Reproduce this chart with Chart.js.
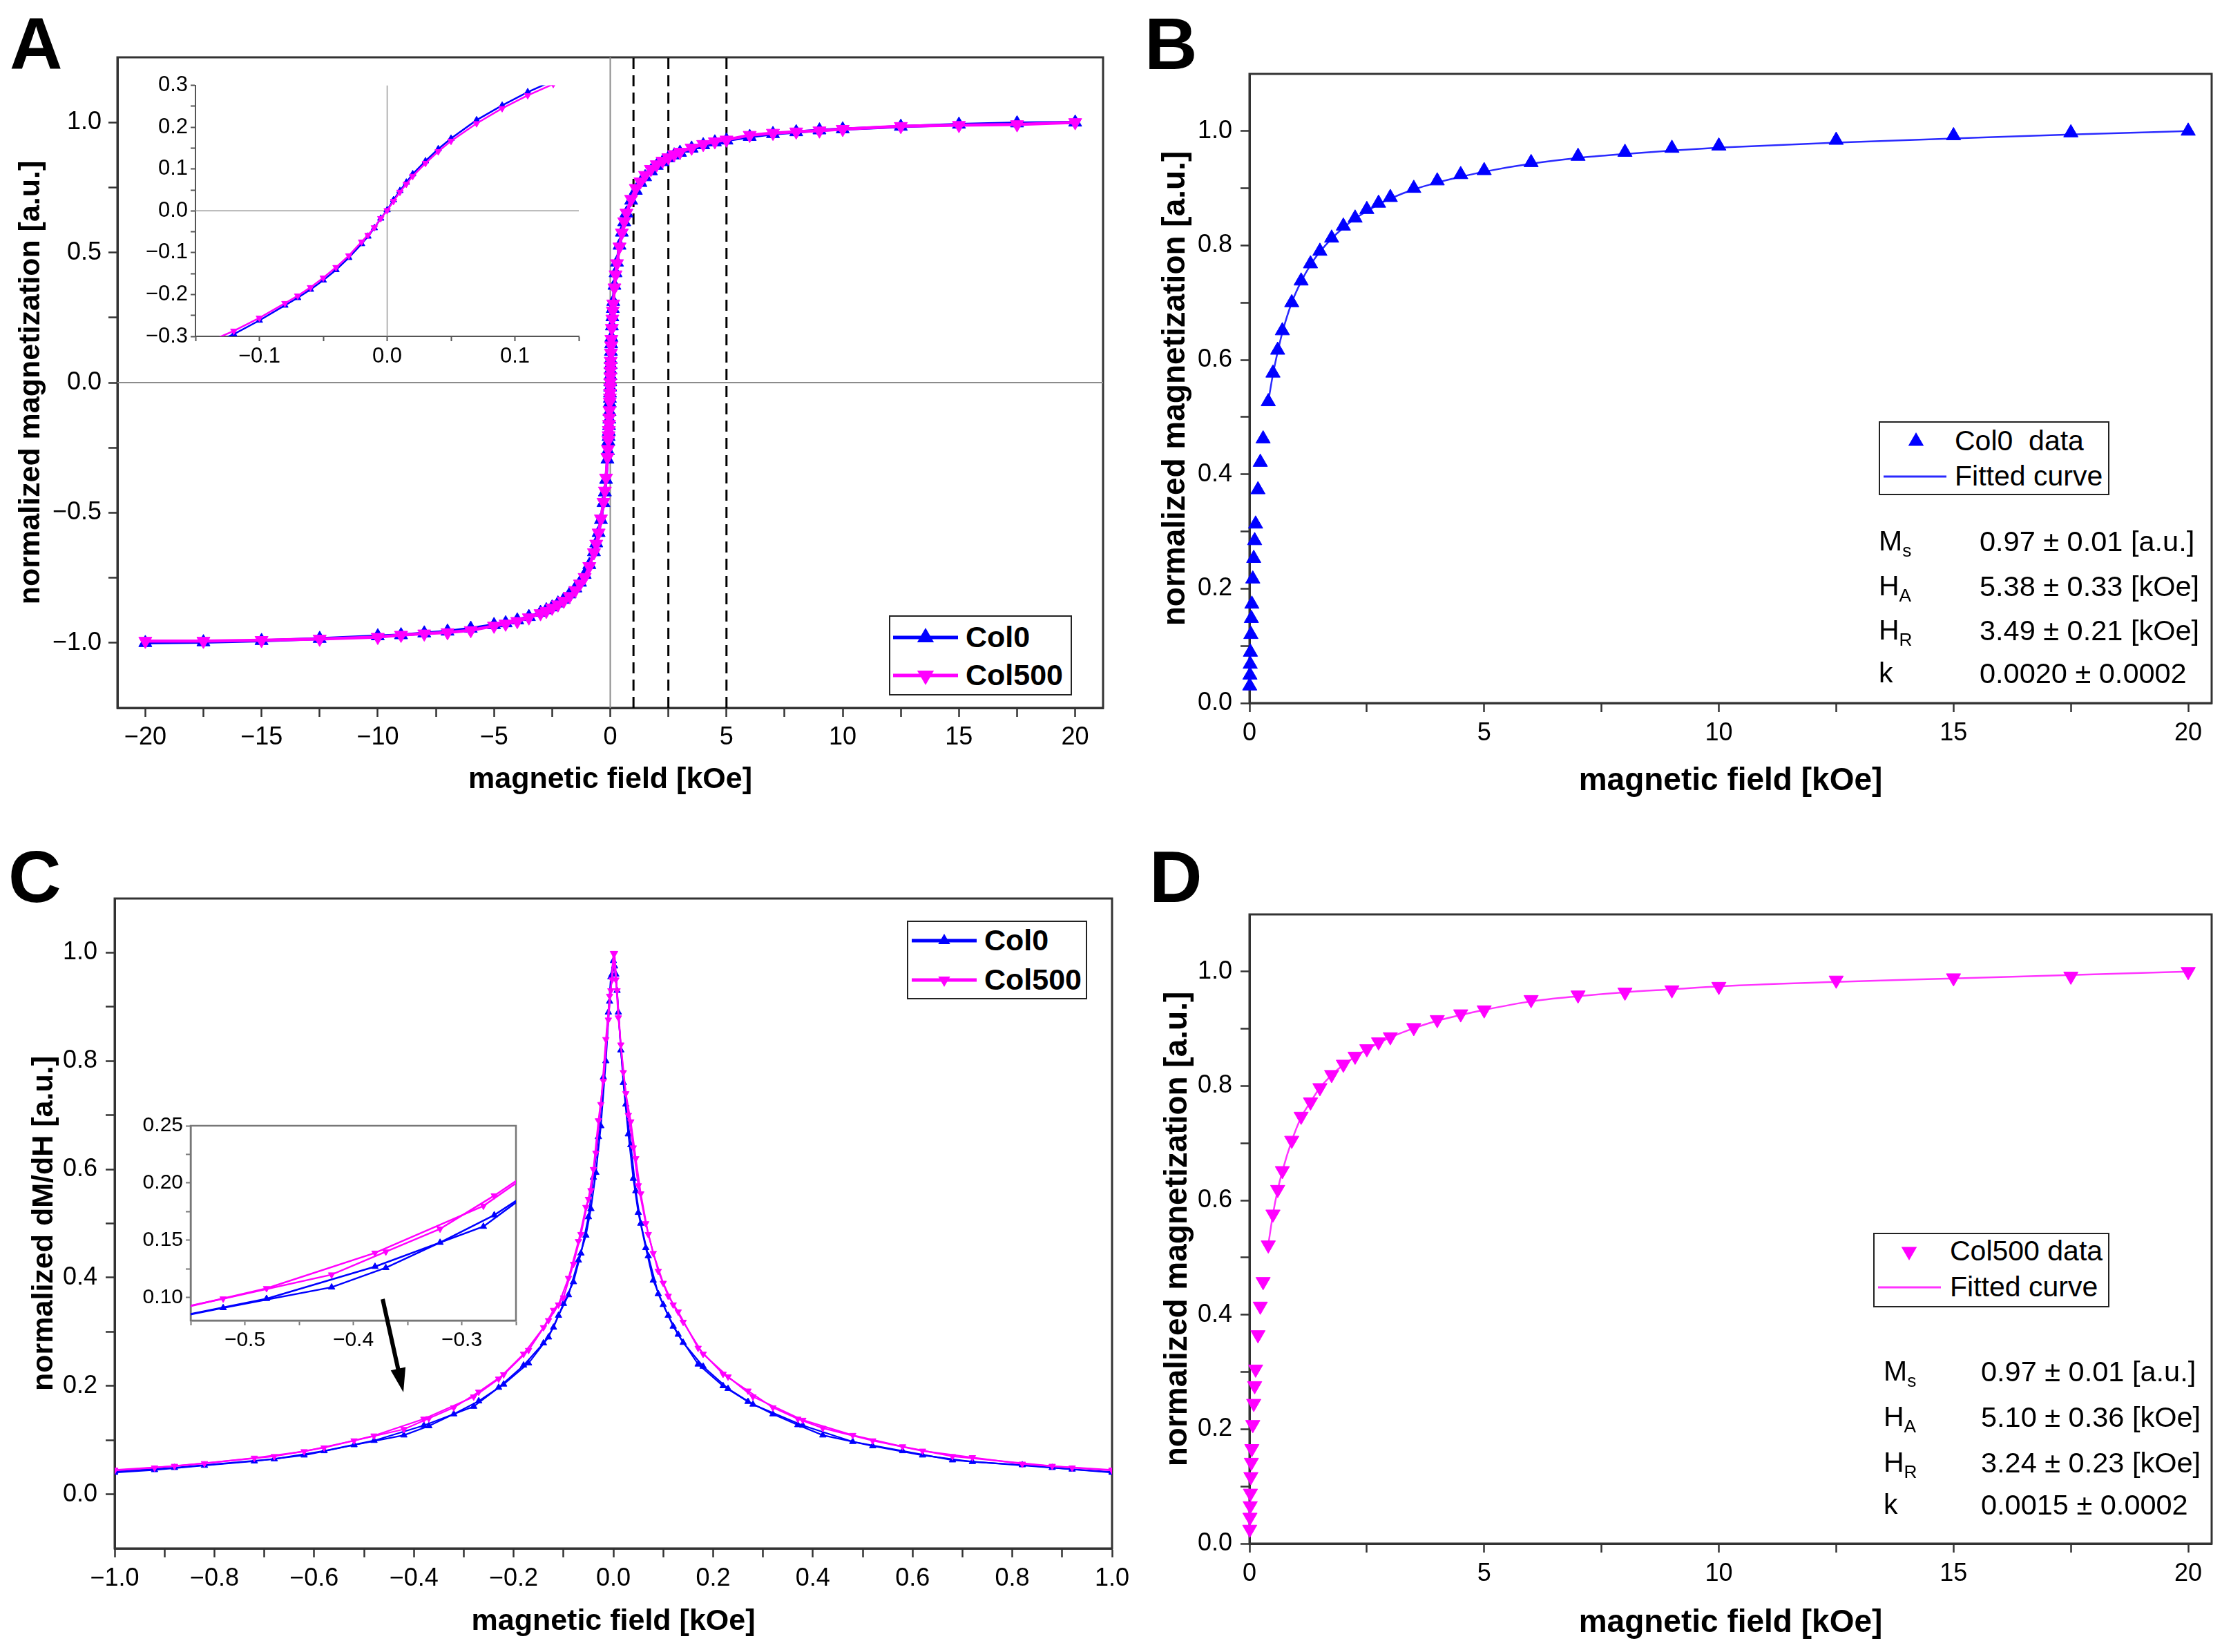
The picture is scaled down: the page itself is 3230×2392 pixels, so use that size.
<!DOCTYPE html>
<html>
<head>
<meta charset="utf-8">
<title>Magnetization curves</title>
<script src="https://cdn.jsdelivr.net/npm/chart.js@4.4.1/dist/chart.umd.min.js"></script>
<style>
html,body{margin:0;padding:0;background:#fff;overflow:hidden;}
body{width:3230px;height:2392px;position:relative;font-family:'Liberation Sans',Arial,sans-serif;color:#000;}
canvas{position:absolute;}
.letter{position:absolute;font-size:106px;font-weight:bold;line-height:1;}
.lgbox{position:absolute;border:2.5px solid #222;box-sizing:border-box;background:#fff;}
.txt{position:absolute;white-space:nowrap;}
.txt sub{font-size:0.64em;vertical-align:-0.35em;line-height:0;}
svg{position:absolute;left:0;top:0;}
</style>
</head>
<body>
<script>
'use strict';

//////// data: panel A (full loop, both samples)
let aH=[-20,-17.5,-15,-12.5,-10,-9,-8,-7,-6,-5,-4.5,-4,-3.5,-3,-2.75,-2.5,-2.25,-2,-1.75,-1.5,-1.3,-1.1,-0.9,-0.7,-0.6,-0.5,-0.4,-0.29,-0.23,-0.18,-0.12,-0.1,-0.08,-0.07,-0.06,-0.05,-0.04,-0.03,-0.02,-0.015,-0.01,-0.005,
  0,
  0.005,0.01,0.015,0.02,0.03,0.04,0.05,0.07,0.09,0.11,0.13,0.18,0.23,0.29,0.4,0.5,0.6,0.7,0.9,1.1,1.3,1.5,1.75,2,2.25,2.5,2.75,3,3.5,4,4.5,5,6,7,8,9,10,12.5,15,17.5,20];
let aCol0=[-1.000,-0.997,-0.992,-0.984,-0.974,-0.970,-0.963,-0.956,-0.945,-0.931,-0.924,-0.913,-0.900,-0.884,-0.874,-0.863,-0.848,-0.834,-0.813,-0.790,-0.768,-0.738,-0.700,-0.651,-0.617,-0.577,-0.527,-0.462,-0.421,-0.373,-0.295,-0.262,-0.226,-0.208,-0.188,-0.166,-0.141,-0.112,-0.079,-0.061,-0.041,-0.018,
  0.002,
  0.026,0.048,0.068,0.088,0.119,0.148,0.173,0.217,0.252,0.284,0.311,0.373,0.421,0.462,0.527,0.577,0.617,0.651,0.700,0.738,0.768,0.790,0.813,0.834,0.848,0.863,0.874,0.884,0.900,0.913,0.924,0.931,0.945,0.956,0.963,0.970,0.974,0.984,0.992,0.997,1.000];
let aCol500=[-0.993,-0.993,-0.990,-0.985,-0.978,-0.970,-0.965,-0.960,-0.952,-0.935,-0.927,-0.917,-0.903,-0.887,-0.878,-0.866,-0.853,-0.839,-0.821,-0.798,-0.773,-0.748,-0.706,-0.653,-0.620,-0.577,-0.523,-0.459,-0.416,-0.366,-0.287,-0.256,-0.221,-0.203,-0.183,-0.160,-0.135,-0.107,-0.074,-0.058,-0.040,-0.018,
  0.001,
  0.023,0.045,0.064,0.083,0.114,0.142,0.167,0.209,0.245,0.276,0.303,0.365,0.415,0.458,0.522,0.576,0.619,0.652,0.705,0.747,0.772,0.797,0.820,0.838,0.852,0.865,0.877,0.886,0.902,0.916,0.926,0.933,0.951,0.959,0.964,0.968,0.974,0.985,0.989,0.992,1.000];
let aMarkLines=[1,2.5,5];

//////// data: panels B and D (positive branch + fit)
let bH=[0.005,0.01,0.015,0.02,0.03,0.04,0.05,0.07,0.09,0.11,0.13,0.18,0.23,0.29,0.4,0.5,0.6,0.7,0.9,1.1,1.3,1.5,1.75,2,2.25,2.5,2.75,3,3.5,4,4.5,5,6,7,8,9,10,12.5,15,17.5,20];
let bCol0=[0.030,0.049,0.068,0.089,0.120,0.148,0.173,0.217,0.253,0.284,0.313,0.373,0.421,0.462,0.527,0.577,0.617,0.651,0.700,0.738,0.768,0.790,0.813,0.834,0.848,0.863,0.874,0.884,0.900,0.913,0.924,0.931,0.945,0.956,0.963,0.970,0.974,0.984,0.992,0.997,1.000];
let dCol500=[0.025,0.046,0.066,0.088,0.117,0.142,0.166,0.208,0.245,0.276,0.305,0.365,0.415,0.458,0.522,0.576,0.619,0.652,0.705,0.747,0.772,0.797,0.820,0.838,0.852,0.865,0.877,0.886,0.902,0.916,0.926,0.933,0.951,0.959,0.964,0.968,0.974,0.985,0.989,0.992,1.000];
let fitH=[0.4,0.5,0.6,0.7,0.9,1.1,1.3,1.5,1.75,2,2.25,2.5,2.75,3,3.5,4,4.5,5,6,7,8,9,10,12.5,15,17.5,20];
let bFit=[0.527,0.575,0.614,0.648,0.700,0.737,0.766,0.789,0.812,0.831,0.847,0.860,0.872,0.882,0.898,0.910,0.920,0.929,0.943,0.953,0.960,0.966,0.971,0.980,0.987,0.994,1.000];
let dFit=[0.522,0.576,0.618,0.651,0.704,0.745,0.772,0.797,0.819,0.837,0.851,0.864,0.875,0.885,0.901,0.914,0.924,0.933,0.948,0.957,0.964,0.969,0.974,0.982,0.988,0.994,1.000];
let bParams=[['M','s','0.97 \u00b1 0.01 [a.u.]'],['H','A','5.38 \u00b1 0.33 [kOe]'],['H','R','3.49 \u00b1 0.21 [kOe]'],['k','','0.0020 \u00b1 0.0002']];
let dParams=[['M','s','0.97 \u00b1 0.01 [a.u.]'],['H','A','5.10 \u00b1 0.36 [kOe]'],['H','R','3.24 \u00b1 0.23 [kOe]'],['k','','0.0015 \u00b1 0.0002']];

//////// data: panel C (derivative, two sweeps per sample)
let cHa=[-1.0,-0.92,-0.82,-0.72,-0.62,-0.52,-0.42,-0.37,-0.32,-0.27,-0.22,-0.17,-0.13,-0.11,-0.09,-0.07,-0.055,-0.045,-0.035,-0.025,-0.015,-0.0075,-0.0025,
  0.0025,0.0075,0.015,0.025,0.035,0.045,0.055,0.07,0.09,0.11,0.13,0.17,0.22,0.27,0.32,0.37,0.42,0.52,0.62,0.72,0.82,0.92,1.0];
let cCol0a=[0.040,0.045,0.053,0.061,0.072,0.091,0.109,0.126,0.148,0.172,0.203,0.242,0.290,0.330,0.368,0.432,0.478,0.527,0.594,0.680,0.800,0.910,0.960,
  0.975,0.930,0.820,0.720,0.645,0.560,0.500,0.440,0.370,0.330,0.295,0.240,0.200,0.171,0.148,0.128,0.109,0.089,0.072,0.060,0.054,0.046,0.041];
let cCol500a=[0.044,0.049,0.057,0.067,0.079,0.099,0.120,0.140,0.160,0.189,0.221,0.266,0.321,0.350,0.399,0.467,0.530,0.561,0.630,0.720,0.840,0.920,0.950,
  0.999,0.930,0.830,0.740,0.688,0.620,0.555,0.480,0.412,0.366,0.337,0.270,0.222,0.191,0.160,0.139,0.122,0.099,0.080,0.068,0.056,0.049,0.044];
let cHb=[-1.0,-0.88,-0.68,-0.58,-0.48,-0.38,-0.28,-0.23,-0.18,-0.14,-0.12,-0.1,-0.08,-0.065,-0.05,-0.04,-0.03,-0.02,-0.01,-0.005,
  0,
  0.005,0.01,0.02,0.03,0.04,0.05,0.065,0.08,0.1,0.12,0.14,0.18,0.23,0.28,0.38,0.48,0.58,0.68,0.88,1.0];
let cCol0b=[0.042,0.049,0.065,0.080,0.099,0.127,0.162,0.197,0.238,0.279,0.308,0.352,0.392,0.445,0.512,0.585,0.660,0.770,0.890,0.955,
  0.985,
  0.960,0.890,0.760,0.665,0.583,0.520,0.455,0.395,0.350,0.310,0.280,0.236,0.195,0.166,0.127,0.097,0.080,0.063,0.049,0.040];
let cCol500b=[0.045,0.052,0.070,0.086,0.108,0.139,0.180,0.213,0.259,0.308,0.340,0.363,0.425,0.480,0.545,0.600,0.690,0.763,0.876,0.930,
  0.999,
  0.950,0.880,0.779,0.700,0.640,0.570,0.500,0.445,0.390,0.350,0.318,0.259,0.217,0.180,0.137,0.109,0.088,0.070,0.052,0.045];

//////// tick values and labelled ticks
let aXTicks=[-20,-17.5,-15,-12.5,-10,-7.5,-5,-2.5,0,2.5,5,7.5,10,12.5,15,17.5,20];
let aXLabels=[-20,-15,-10,-5,0,5,10,15,20];
let aYTicks=[-1,-0.75,-0.5,-0.25,0,0.25,0.5,0.75,1];
let aYLabels=[-1,-0.5,0,0.5,1];
let insAXTicks=[-0.15,-0.1,-0.05,0,0.05,0.1,0.15];
let insAXLabels=[-0.1,0,0.1];
let insAYTicks=[-0.3,-0.25,-0.2,-0.15,-0.1,-0.05,0,0.05,0.1,0.15,0.2,0.25,0.3];
let insAYLabels=[-0.3,-0.2,-0.1,0,0.1,0.2,0.3];
let bXTicks=[0,2.5,5,7.5,10,12.5,15,17.5,20];
let bXLabels=[0,5,10,15,20];
let bYTicks=[0,0.1,0.2,0.3,0.4,0.5,0.6,0.7,0.8,0.9,1.0];
let bYLabels=[0,0.2,0.4,0.6,0.8,1.0];
let cXTicks=[-1,-0.9,-0.8,-0.7,-0.6,-0.5,-0.4,-0.3,-0.2,-0.1,0,0.1,0.2,0.3,0.4,0.5,0.6,0.7,0.8,0.9,1];
let cXLabels=[-1,-0.8,-0.6,-0.4,-0.2,0,0.2,0.4,0.6,0.8,1];
let cYTicks=[0,0.1,0.2,0.3,0.4,0.5,0.6,0.7,0.8,0.9,1.0];
let cYLabels=[0,0.2,0.4,0.6,0.8,1.0];
let insCXTicks=[-0.55,-0.5,-0.45,-0.4,-0.35,-0.3,-0.25];
let insCXLabels=[-0.5,-0.4,-0.3];
let insCYTicks=[0.1,0.125,0.15,0.175,0.2,0.225,0.25];
let insCYLabels=[0.1,0.15,0.2,0.25];

let BLUE='#0000ff';
let MAGENTA='#ff00ff';
let AXIS='#333';

Chart.defaults.font.family="'Liberation Sans', Arial, sans-serif";
Chart.defaults.color='#000';

// box round the plot area, drawn under the data
let framePlugin={
  id:'frame',
  beforeDatasetsDraw(chart, args, opts){
    if(!opts.show){return;}
    let a=chart.chartArea;
    let ctx=chart.ctx;
    ctx.save();
    ctx.strokeStyle=opts.color;
    ctx.lineWidth=opts.width;
    ctx.strokeRect(a.left, a.top, a.right-a.left, a.bottom-a.top);
    ctx.restore();
  }
};
Chart.register(framePlugin);

function pts(xs, ys){
  return xs.map(function(x, i){ return {x:x, y:ys[i]}; });
}

function fmt(v, dec){
  if(Math.abs(v)<1e-9){ return (0).toFixed(dec); }
  let s=Math.abs(v).toFixed(dec);
  return v<0 ? '\u2212'+s : s;
}

function inList(v, list){
  return list.some(function(l){ return Math.abs(l-v)<1e-9; });
}

// one linear axis with fixed size so the plot area lands where we want it
function axis(o){
  return {
    type:'linear',
    position:o.pos,
    min:o.min,
    max:o.max,
    afterBuildTicks:function(ax){ ax.ticks=o.ticks.map(function(v){ return {value:v}; }); },
    afterFit:function(ax){ if(o.pos==='left'){ ax.width=o.size; }else{ ax.height=o.size; } },
    ticks:{
      autoSkip:false, maxRotation:0, minRotation:0,
      padding:o.pad,
      font:{size:o.fs},
      color:'#000',
      callback:function(v){ return inList(v, o.labels) ? fmt(v, o.dec) : ''; }
    },
    grid:{drawOnChartArea:false, drawTicks:true, tickLength:o.tl, tickWidth:o.tw, tickColor:o.color},
    border:{display:true, color:o.color, width:o.bw},
    title:o.title ? {display:true, text:o.title, font:{size:o.tfs, weight:'bold'}, color:'#000', padding:0} : {display:false}
  };
}

function series(xs, ys, color, o){
  return {
    data:pts(xs, ys),
    showLine:o.lw>0,
    borderColor:color,
    backgroundColor:color,
    borderWidth:o.lw,
    pointRadius:o.r,
    pointStyle:'triangle',
    pointRotation:o.rot||0,
    pointBorderWidth:1,
    pointBorderColor:color,
    pointBackgroundColor:color,
    cubicInterpolationMode:o.smooth ? 'monotone' : 'default',
    order:o.order,
    clip:o.clip
  };
}

function refLine(p0, p1, color, width, dash){
  return {data:[p0, p1], showLine:true, borderColor:color, borderWidth:width, borderDash:dash||[], pointRadius:0, order:9};
}

// canvas placed so that the chart area sits on plot = {l,t,r,b}
function makeChart(plot, wy, hx, pad, datasets, xAx, yAx, frame){
  let c=document.createElement('canvas');
  let w=pad.l+wy+(plot.r-plot.l)+pad.r;
  let h=pad.t+(plot.b-plot.t)+hx+pad.b;
  c.width=w; c.height=h;
  c.style.width=w+'px'; c.style.height=h+'px';
  c.style.left=(plot.l-wy-pad.l)+'px';
  c.style.top=(plot.t-pad.t)+'px';
  document.body.appendChild(c);
  return new Chart(c.getContext('2d'), {
    type:'scatter',
    data:{datasets:datasets},
    options:{
      responsive:false,
      animation:false,
      devicePixelRatio:1,
      layout:{padding:{left:pad.l, right:pad.r, top:pad.t, bottom:pad.b}},
      elements:{line:{tension:0}},
      plugins:{legend:{display:false}, tooltip:{enabled:false}, frame:frame},
      scales:{x:xAx, y:yAx}
    }
  });
}

let FRAME={show:true, color:AXIS, width:3};

//////// panel A
makeChart({l:170,t:83,r:1597,b:1025}, 151, 130, {l:40,r:40,t:40,b:20}, [
  series(aH, aCol500, MAGENTA, {lw:4.5, r:11, rot:180, order:1, clip:false}),
  series(aH, aCol0, BLUE, {lw:4.5, r:11, order:2, clip:false}),
  refLine({x:-21.2,y:0}, {x:21.2,y:0}, '#8c8c8c', 2),
  refLine({x:0,y:-1.25}, {x:0,y:1.25}, '#8c8c8c', 2),
  refLine({x:aMarkLines[0],y:-1.25}, {x:aMarkLines[0],y:1.25}, '#000', 3, [16,9]),
  refLine({x:aMarkLines[1],y:-1.25}, {x:aMarkLines[1],y:1.25}, '#000', 3, [16,9]),
  refLine({x:aMarkLines[2],y:-1.25}, {x:aMarkLines[2],y:1.25}, '#000', 3, [16,9])
],
  axis({pos:'bottom', min:-21.2, max:21.2, ticks:aXTicks, labels:aXLabels, dec:0, size:130, pad:8, fs:36, tl:13, tw:2.5, bw:3, color:AXIS, title:'magnetic field [kOe]', tfs:43}),
  axis({pos:'left', min:-1.25, max:1.25, ticks:aYTicks, labels:aYLabels, dec:1, size:151, pad:10, fs:36, tl:13, tw:2.5, bw:3, color:AXIS, title:'normalized magnetization [a.u.]', tfs:43}),
  FRAME);

//////// inset of A
makeChart({l:283,t:121,r:838,b:487}, 80, 45, {l:20,r:20,t:20,b:20}, [
  series(aH, aCol500, MAGENTA, {lw:2.5, r:5.5, rot:180, order:1}),
  series(aH, aCol0, BLUE, {lw:2.5, r:5.5, order:2}),
  refLine({x:-0.15,y:0}, {x:0.15,y:0}, '#9a9a9a', 1.5),
  refLine({x:0,y:-0.3}, {x:0,y:0.3}, '#9a9a9a', 1.5)
],
  axis({pos:'bottom', min:-0.15, max:0.15, ticks:insAXTicks, labels:insAXLabels, dec:1, size:45, pad:4, fs:31, tl:7, tw:2, bw:2, color:'#555'}),
  axis({pos:'left', min:-0.3, max:0.3, ticks:insAYTicks, labels:insAYLabels, dec:1, size:80, pad:4, fs:31, tl:7, tw:2, bw:2, color:'#555'}),
  {show:false});

//////// panel B
makeChart({l:1809,t:107,r:3202,b:1018}, 134, 141, {l:40,r:20,t:40,b:20}, [
  series(bH, bCol0, BLUE, {lw:0, r:12, order:1, clip:false}),
  series(fitH, bFit, '#2a2aff', {lw:2.5, r:0, smooth:true, order:2})
],
  axis({pos:'bottom', min:0, max:20.5, ticks:bXTicks, labels:bXLabels, dec:0, size:141, pad:9, fs:36, tl:13, tw:2.5, bw:3, color:AXIS, title:'magnetic field [kOe]', tfs:46}),
  axis({pos:'left', min:0, max:1.1, ticks:bYTicks, labels:bYLabels, dec:1, size:134, pad:12, fs:36, tl:13, tw:2.5, bw:3, color:AXIS, title:'normalized magnetization [a.u.]', tfs:46}),
  FRAME);

//////// panel C
makeChart({l:166,t:1301,r:1610,b:2242}, 128, 132, {l:40,r:40,t:40,b:20}, [
  series(cHa, cCol500a, MAGENTA, {lw:2.2, r:5.5, rot:180, order:1}),
  series(cHb, cCol500b, MAGENTA, {lw:2.2, r:5.5, rot:180, order:2}),
  series(cHa, cCol0a, BLUE, {lw:2.2, r:5.5, order:3}),
  series(cHb, cCol0b, BLUE, {lw:2.2, r:5.5, order:4})
],
  axis({pos:'bottom', min:-1, max:1, ticks:cXTicks, labels:cXLabels, dec:1, size:132, pad:9, fs:36, tl:13, tw:2.5, bw:3, color:AXIS, title:'magnetic field [kOe]', tfs:43}),
  axis({pos:'left', min:-0.1, max:1.1, ticks:cYTicks, labels:cYLabels, dec:1, size:128, pad:12, fs:36, tl:13, tw:2.5, bw:3, color:AXIS, title:'normalized dM/dH [a.u.]', tfs:43}),
  FRAME);

//////// inset of C
makeChart({l:276,t:1628,r:747,b:1912}, 85, 45, {l:20,r:20,t:20,b:20}, [
  series(cHa, cCol500a, MAGENTA, {lw:2.5, r:5.5, rot:180, order:1}),
  series(cHb, cCol500b, MAGENTA, {lw:2.5, r:5.5, rot:180, order:2}),
  series(cHa, cCol0a, BLUE, {lw:2.5, r:5.5, order:3}),
  series(cHb, cCol0b, BLUE, {lw:2.5, r:5.5, order:4})
],
  axis({pos:'bottom', min:-0.55, max:-0.25, ticks:insCXTicks, labels:insCXLabels, dec:1, size:45, pad:4, fs:30, tl:7, tw:2, bw:2.5, color:'#777'}),
  axis({pos:'left', min:0.08, max:0.25, ticks:insCYTicks, labels:insCYLabels, dec:2, size:85, pad:4, fs:30, tl:7, tw:2, bw:2.5, color:'#777'}),
  {show:true, color:'#777', width:2.5});

//////// panel D
makeChart({l:1809,t:1324,r:3202,b:2235}, 131, 143, {l:40,r:20,t:40,b:20}, [
  series(bH, dCol500, MAGENTA, {lw:0, r:12, rot:180, order:1, clip:false}),
  series(fitH, dFit, '#ff33ff', {lw:2.5, r:0, smooth:true, order:2})
],
  axis({pos:'bottom', min:0, max:20.5, ticks:bXTicks, labels:bXLabels, dec:0, size:143, pad:9, fs:36, tl:13, tw:2.5, bw:3, color:AXIS, title:'magnetic field [kOe]', tfs:46}),
  axis({pos:'left', min:0, max:1.1, ticks:bYTicks, labels:bYLabels, dec:1, size:131, pad:12, fs:36, tl:13, tw:2.5, bw:3, color:AXIS, title:'normalized magnetization [a.u.]', tfs:46}),
  FRAME);

//////// text overlays: letters, legends, fit parameters
function addText(html, x, cy, fs, bold){
  let d=document.createElement('div');
  d.className='txt';
  d.innerHTML=html;
  d.style.left=x+'px';
  d.style.top=(cy-fs*0.6)+'px';
  d.style.fontSize=fs+'px';
  d.style.lineHeight=(fs*1.2)+'px';
  if(bold){ d.style.fontWeight='bold'; }
  document.body.appendChild(d);
}

function addLetter(ch, x, y){
  let d=document.createElement('div');
  d.className='letter';
  d.textContent=ch;
  d.style.left=x+'px';
  d.style.top=y+'px';
  document.body.appendChild(d);
}

function addBox(l, t, r, b){
  let d=document.createElement('div');
  d.className='lgbox';
  d.style.left=l+'px'; d.style.top=t+'px';
  d.style.width=(r-l)+'px'; d.style.height=(b-t)+'px';
  document.body.appendChild(d);
}

addLetter('A', 14, 10);
addLetter('B', 1657, 10);
addLetter('C', 12, 1216);
addLetter('D', 1664, 1216);

addBox(1287, 891, 1552, 1007);
addBox(1313, 1333, 1574, 1447);
addBox(2720, 610, 3054, 717);
addBox(2712, 1785, 3054, 1893);

addText('Col0', 1398, 923, 43, true);
addText('Col500', 1398, 978, 43, true);
addText('Col0', 1425, 1362, 43, true);
addText('Col500', 1425, 1419, 43, true);
addText('Col0&nbsp; data', 2830, 639, 41, false);
addText('Fitted curve', 2830, 690, 41, false);
addText('Col500 data', 2823, 1812, 41, false);
addText('Fitted curve', 2823, 1864, 41, false);

let bRows=[784, 849, 913, 975];
let dRows=[1986, 2052, 2118, 2179];
for(let i=0;i<bParams.length;i++){
  addText(bParams[i][0]+(bParams[i][1] ? '<sub>'+bParams[i][1]+'</sub>' : ''), 2720, bRows[i], 41, false);
  addText(bParams[i][2], 2866, bRows[i], 41.5, false);
  addText(dParams[i][0]+(dParams[i][1] ? '<sub>'+dParams[i][1]+'</sub>' : ''), 2727, dRows[i], 41, false);
  addText(dParams[i][2], 2868, dRows[i], 41.5, false);
}

// legend symbols and the arrow in C
function tri(cx, cy, r, down){
  let s=down ? -1 : 1;
  return [[cx, cy-s*r], [cx+0.866*r, cy+s*0.5*r], [cx-0.866*r, cy+s*0.5*r]].map(function(p){ return p.join(','); }).join(' ');
}
let svg='<svg width="3230" height="2392" xmlns="http://www.w3.org/2000/svg">'+
  // legend A
  '<line x1="1293" y1="923" x2="1387" y2="923" stroke="'+BLUE+'" stroke-width="5"/>'+
  '<polygon points="'+tri(1340, 923, 14, false)+'" fill="'+BLUE+'"/>'+
  '<line x1="1293" y1="978" x2="1387" y2="978" stroke="'+MAGENTA+'" stroke-width="5"/>'+
  '<polygon points="'+tri(1340, 978, 14, true)+'" fill="'+MAGENTA+'"/>'+
  // legend C
  '<line x1="1320" y1="1362" x2="1414" y2="1362" stroke="'+BLUE+'" stroke-width="5"/>'+
  '<polygon points="'+tri(1367, 1362, 10, false)+'" fill="'+BLUE+'"/>'+
  '<line x1="1320" y1="1419" x2="1414" y2="1419" stroke="'+MAGENTA+'" stroke-width="5"/>'+
  '<polygon points="'+tri(1367, 1419, 10, true)+'" fill="'+MAGENTA+'"/>'+
  // legend B
  '<polygon points="'+tri(2774, 639, 13, false)+'" fill="'+BLUE+'"/>'+
  '<line x1="2727" y1="690" x2="2818" y2="690" stroke="#2a2aff" stroke-width="3"/>'+
  // legend D
  '<polygon points="'+tri(2764, 1812, 13, true)+'" fill="'+MAGENTA+'"/>'+
  '<line x1="2719" y1="1864" x2="2810" y2="1864" stroke="#ff33ff" stroke-width="3"/>'+
  // arrow
  '<line x1="554" y1="1881" x2="577" y2="1985" stroke="#000" stroke-width="6"/>'+
  '<polygon points="584,2016 565.7,1984.2 587.1,1979.4" fill="#000"/>'+
  '</svg>';
let holder=document.createElement('div');
holder.innerHTML=svg;
document.body.appendChild(holder.firstChild);
</script>
</body>
</html>
